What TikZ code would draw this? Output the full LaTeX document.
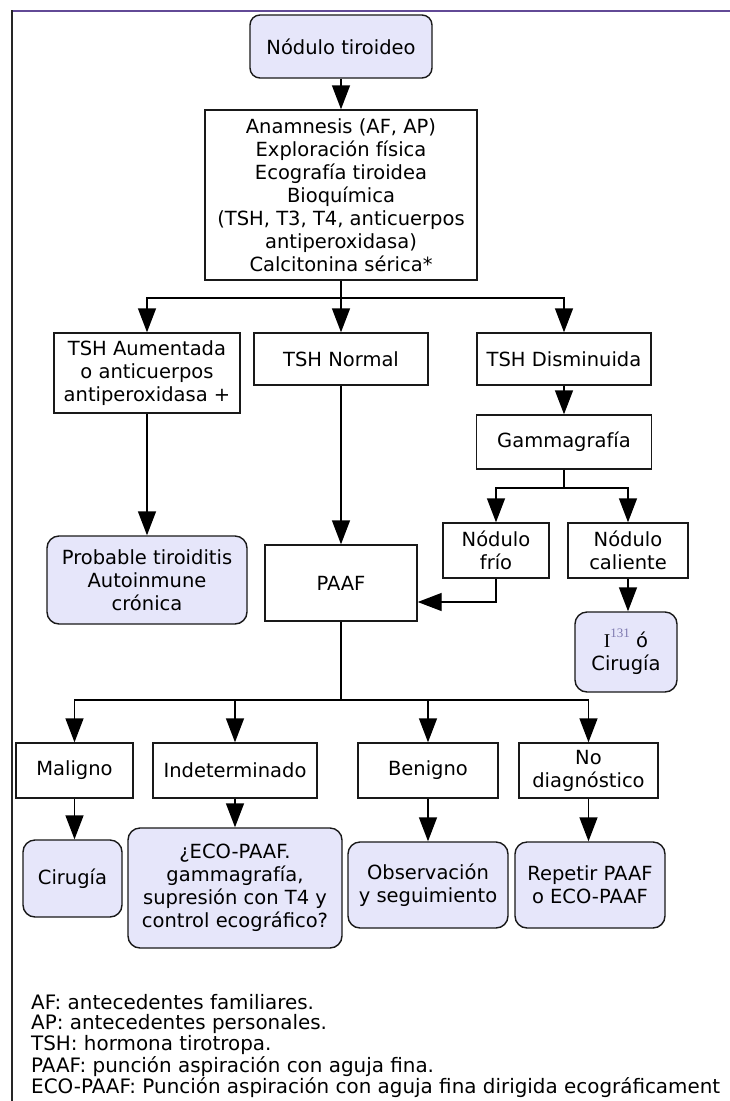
\documentclass[tikz,border=0pt]{standalone}
\usepackage{fontspec}
\setmainfont{DejaVu Sans}
\newfontfamily\serifI{Liberation Serif}
\usetikzlibrary{arrows.meta,calc}
\definecolor{lav}{RGB}{230,230,250}
\definecolor{frameviolet}{RGB}{98,74,150}
\definecolor{supgray}{RGB}{125,120,175}
\begin{document}
\begin{tikzpicture}[x=1pt,y=-1pt,
  font=\fontsize{19.5}{23}\selectfont,
  box/.style={draw=black!90, line width=1.4pt, fill=white, inner sep=0pt, align=center},
  rbox/.style={box, fill=lav, rounded corners=12pt},
  arr/.style={-{Triangle[width=18pt,length=24pt]}, line width=1.4pt},
  conn/.style={line width=1.4pt},
  note/.style={anchor=west, inner sep=0pt, font=\fontsize{19.9}{23}\selectfont}]
\useasboundingbox (0,0) rectangle (730,1101);
\fill[white] (0,0) rectangle (730,1101);
% frame
\draw[frameviolet, line width=2.2pt] (11,11) -- (730,11);
\draw[black!85, line width=1.5pt] (12,10) -- (12,1101);

% nodes
\node[rbox, rounded corners=10pt, minimum width=182pt, minimum height=63pt] (nod) at (341,46.5) {Nódulo tiroideo};
\node[box, minimum width=272pt, minimum height=170pt] (main) at (341,195) {Anamnesis (AF, AP)\\Exploración física\\Ecografía tiroidea\\Bioquímica\\(TSH, T3, T4, anticuerpos\\antiperoxidasa)\\Calcitonina sérica*};
\node[box, minimum width=186pt, minimum height=80pt] (aum) at (147,373) {TSH Aumentada\\o anticuerpos\\antiperoxidasa +};
\node[box, minimum width=174pt, minimum height=52pt] (norm) at (341,359) {TSH Normal};
\node[box, minimum width=174pt, minimum height=52pt] (dis) at (564,359) {TSH Disminuida};
\node[box, minimum width=175pt, minimum height=54pt] (gam) at (564,442) {Gammagrafía};
\node[box, minimum width=106pt, minimum height=55pt] (fri) at (496,550.5) {Nódulo\\frío};
\node[box, minimum width=120pt, minimum height=55pt] (cal) at (628,550.5) {Nódulo\\caliente};
\node[rbox, minimum width=102pt, minimum height=80pt] (iod) at (626,652) {{\serifI I}{\color{supgray}\raisebox{0.5em}{\fontsize{13}{13}\selectfont\serifI 131}} ó\\Cirugía};
\node[rbox, minimum width=200pt, minimum height=88pt] (prob) at (147,580) {Probable tiroiditis\\Autoinmune\\crónica};
\node[box, minimum width=152pt, minimum height=76pt] (paaf) at (341,583) {PAAF};
\node[box, minimum width=117pt, minimum height=55pt] (mal) at (74.5,770.5) {Maligno};
\node[box, minimum width=164pt, minimum height=55pt] (ind) at (235,770.5) {Indeterminado};
\node[box, minimum width=140pt, minimum height=55pt] (ben) at (428,770.5) {Benigno};
\node[box, minimum width=139pt, minimum height=55pt] (nd) at (588.5,770.5) {No\\diagnóstico};
\node[rbox, minimum width=99pt, minimum height=77pt] (cir) at (72.5,878.5) {Cirugía};
\node[rbox, minimum width=214pt, minimum height=120pt] (eco) at (235,888) {¿ECO-PAAF.\\gammagrafía,\\supresión con T4 y\\control ecográfico?};
\node[rbox, minimum width=160pt, minimum height=86pt] (obs) at (428,885) {Observación\\y seguimiento};
\node[rbox, minimum width=150pt, minimum height=86pt] (rep) at (590,885) {Repetir PAAF\\o ECO-PAAF};

% bus points
\coordinate (b1) at (341,298);
\coordinate (b2) at (564,488);
\coordinate (b3) at (341,700);
\coordinate (fk) at (496,602);

% connectors
\draw[arr] (nod.south) -- (main.north);
\draw[conn] (main.south) -- (b1);
\draw[arr] (b1) -| (aum.north);
\draw[arr] (b1) -- (norm.north);
\draw[arr] (b1) -| (dis.north);
\draw[arr] (dis.south) -- (gam.north);
\draw[conn] (gam.south) -- (b2);
\draw[arr] (b2) -| (fri.north);
\draw[arr] (b2) -| (cal.north);
\draw[arr] (fri.south) -- (fk) -- (fk -| paaf.east);
\draw[arr] (cal.south) -- (cal.south |- iod.north);
\draw[arr] (aum.south) -- (prob.north);
\draw[arr] (norm.south) -- (paaf.north);
\draw[conn] (paaf.south) -- (b3);
\draw[arr] (b3) -| (mal.north);
\draw[arr] (b3) -| (ind.north);
\draw[arr] (b3) -| (ben.north);
\draw[arr] (b3) -| (nd.north);
\draw[arr] (mal.south) -- (mal.south |- cir.north);
\draw[arr] (ind.south) -- (eco.north);
\draw[arr] (ben.south) -- (obs.north);
\draw[arr] (nd.south) -- (nd.south |- rep.north);

% notes
\begin{scope}
\clip (0,0) rectangle (730,1101);
\node[note] (n1) at (31,1002) {AF: antecedentes familiares.};
\node[note] (n2) at (31,1023.5) {AP: antecedentes personales.};
\node[note] (n3) at (31,1045) {TSH: hormona tirotropa.};
\node[note] (n4) at (31,1066.5) {PAAF: punción aspiración con aguja fina.};
\node[note] (n5) at (31,1088) {ECO-PAAF: Punción aspiración con aguja fina dirigida ecográficament};
\end{scope}
\end{tikzpicture}
\end{document}
